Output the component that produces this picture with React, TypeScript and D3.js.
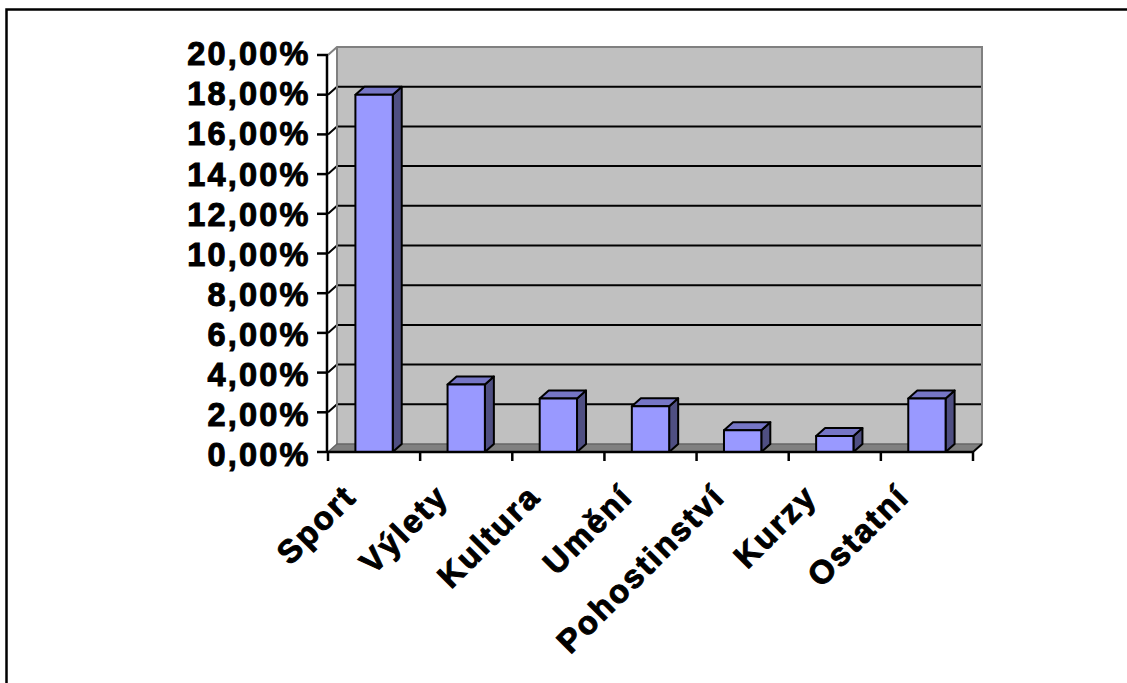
import React from "react";
import * as d3 from "d3";

const categories = ["Sport", "Výlety", "Kultura", "Umění", "Pohostinství", "Kurzy", "Ostatní"];
const values = [18.0, 3.4, 2.7, 2.3, 1.1, 0.8, 2.7];
const yTicks = [0, 2, 4, 6, 8, 10, 12, 14, 16, 18, 20];
const yTickLabels = yTicks.map((t) => t.toFixed(2).replace(".", ",") + "%");

const W = 1127;
const H = 683;
const DX = 9;
const DY = -8;
const LS = 2.2;
const FS = 32.5;
const FONT = "'Liberation Sans', Arial, sans-serif";

export default function App() {
  const x = d3.scaleBand<string>().domain(categories).range([328, 973]).paddingInner(0).paddingOuter(0);
  const y = d3.scaleLinear().domain([0, 20]).range([452, 55]);
  const yLabel = d3.scaleLinear().domain([0, 20]).range([466, 65.3]);
  const bw = x.bandwidth() * 0.405;
  const x0 = 328;
  const x1 = 973;
  const yTop = y(20);
  const yBot = y(0);
  const pts = (a: number[][]) => a.map((p) => p.join(",")).join(" ");
  const k = Math.SQRT1_2;

  return (
    <svg width={W} height={H} style={{ position: "fixed", left: 0, top: 0, background: "#fff" }}>
      <rect x={6.5} y={9.5} width={1140} height={700} fill="#fff" stroke="#000" strokeWidth={2.5} />
      {/* back wall */}
      <polygon points={pts([[x0 + DX, yTop + DY], [x1 + DX, yTop + DY], [x1 + DX, yBot + DY], [x0 + DX, yBot + DY]])} fill="#C0C0C0" stroke="none" />
      {/* floor */}
      <polygon points={pts([[x0, yBot], [x1, yBot], [x1 + DX, yBot + DY], [x0 + DX, yBot + DY]])} fill="#808080" stroke="none" />
      {/* gridlines */}
      {yTicks.filter((t) => t > 0 && t < 20).map((t) => (
        <g key={"g" + t}>
          <line x1={x0 + DX} x2={x1 + DX} y1={y(t) + DY} y2={y(t) + DY} stroke="#000" strokeWidth={2} />
          <line x1={x0} x2={x0 + DX} y1={y(t)} y2={y(t) + DY} stroke="#000" strokeWidth={2} />
        </g>
      ))}
      {/* wall edges */}
      <polyline points={pts([[x0, yTop], [x0 + DX, yTop + DY], [x1 + DX, yTop + DY], [x1 + DX, yBot + DY]])} fill="none" stroke="#808080" strokeWidth={2} />
      <line x1={x0 + DX} x2={x0 + DX} y1={yTop + DY} y2={yBot + DY} stroke="#808080" strokeWidth={2} />
      <polyline points={pts([[x0, yBot], [x0 + DX, yBot + DY], [x1 + DX, yBot + DY]])} fill="none" stroke="#666" strokeWidth={1.5} />
      <line x1={x1} x2={x1 + DX} y1={yBot} y2={yBot + DY} stroke="#000" strokeWidth={2} />
      {/* bars */}
      {categories.map((c, i) => {
        const cx = (x(c) as number) + x.bandwidth() / 2;
        const l = cx - bw / 2;
        const r = cx + bw / 2;
        const t = y(values[i]);
        return (
          <g key={c} stroke="#000" strokeWidth={2} strokeLinejoin="round">
            <polygon points={pts([[r, yBot], [r + DX, yBot + DY], [r + DX, t + DY], [r, t]])} fill="#4F4F82" />
            <polygon points={pts([[l, t], [r, t], [r + DX, t + DY], [l + DX, t + DY]])} fill="#7676C6" />
            <rect x={l} y={t} width={bw} height={yBot - t} fill="#9999FF" />
          </g>
        );
      })}
      {/* axes */}
      <line x1={x0 - 1} x2={x0 - 1} y1={yTop} y2={yBot + 1} stroke="#000" strokeWidth={2.5} />
      {yTicks.map((t) => (
        <line key={"yt" + t} x1={x0 - 11} x2={x0} y1={y(t)} y2={y(t)} stroke="#000" strokeWidth={2.5} />
      ))}
      <line x1={x0 - 1} x2={x1} y1={yBot} y2={yBot} stroke="#000" strokeWidth={2.5} />
      {categories.concat(["end"]).map((c, i) => {
        const xx = i < categories.length ? (x(c) as number) : x1;
        return <line key={"xt" + i} x1={xx} x2={xx} y1={yBot} y2={yBot + 9} stroke="#000" strokeWidth={2.5} />;
      })}
      {yTicks.map((t, i) => (
        <text key={"yl" + t} x={308.5 + LS} y={yLabel(t)} textAnchor="end" fontFamily={FONT} fontWeight="bold" fontSize={FS} letterSpacing={LS} fill="#000" stroke="#000" strokeWidth={1}>
          {yTickLabels[i]}
        </text>
      ))}
      {categories.map((c) => {
        const cx = (x(c) as number) + x.bandwidth() / 2;
        const px = cx - 17.5 + LS * k;
        const py = 500 - LS * k;
        return (
          <text key={"xl" + c} transform={`translate(${px},${py}) rotate(-45)`} textAnchor="end" fontFamily={FONT} fontWeight="bold" fontSize={FS} letterSpacing={LS} fill="#000" stroke="#000" strokeWidth={1}>
            {c}
          </text>
        );
      })}
    </svg>
  );
}
